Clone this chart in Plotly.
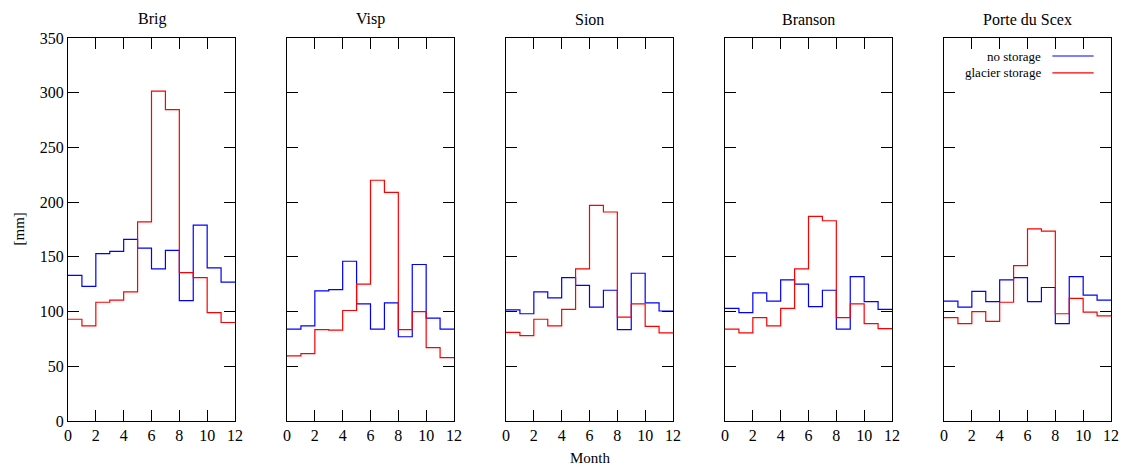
import plotly.graph_objects as go

stations = ["Brig", "Visp", "Sion", "Branson", "Porte du Scex"]
month_edges = list(range(13))  # month bins 0..12

no_storage = {
    "Brig":          [133, 123, 153, 155, 166, 158, 139, 156, 110, 179, 140, 127],
    "Visp":          [84, 87, 119, 120, 146, 107, 84, 108, 77, 143, 94, 84],
    "Sion":          [101.5, 98, 118, 112.5, 131, 124, 104, 119.5, 83.5, 135, 108, 100.5],
    "Branson":       [103, 99, 117, 109.5, 129, 125, 104.5, 119.5, 84, 132, 109, 102],
    "Porte du Scex": [109.5, 104, 118.5, 109, 129, 131, 109, 122, 89, 132, 115, 110.5],
}
glacier_storage = {
    "Brig":          [93, 87, 108.5, 110.5, 118, 182, 301.5, 284.5, 135.5, 131, 99, 90],
    "Visp":          [59.5, 61.5, 83.5, 83, 101, 125, 220, 209, 83.5, 100, 67, 58],
    "Sion":          [81, 78, 93, 87, 102, 139, 197, 191, 95, 107, 86.5, 80.5],
    "Branson":       [84, 80.5, 94.5, 87, 103, 139, 187, 183, 94.5, 107, 89, 84.5],
    "Porte du Scex": [94.5, 89, 100, 91, 108.5, 142, 175.5, 173.5, 98, 112, 99.5, 96],
}
series_names = ["no storage", "glacier storage"]
series_colors = ["#0000ff", "#ff0000"]
x_ticks = [0, 2, 4, 6, 8, 10, 12]
y_ticks = [0, 50, 100, 150, 200, 250, 300, 350]

W, H = 1126, 469
ML, MR, MT, MB = 68, 15, 38, 48
area_w = W - ML - MR
panel_left_px = [68, 287, 506, 725, 944]
panel_width_px = 167

FONT = "Liberation Serif, Times New Roman, serif"
fig = go.Figure()
annotations = []
shapes = []

for i, st in enumerate(stations):
    k = "" if i == 0 else str(i + 1)
    for name, col, data in zip(series_names, series_colors, [no_storage, glacier_storage]):
        vals = data[st]
        fig.add_trace(go.Scatter(
            x=month_edges, y=vals + [vals[-1]],
            mode="lines", line=dict(color=col, width=1.2, shape="hv"),
            name=name, showlegend=False, xaxis="x" + k, yaxis="y" + k,
            hoverinfo="x+y",
        ))
    x0 = (panel_left_px[i] - ML) / area_w
    x1 = (panel_left_px[i] + panel_width_px - ML) / area_w
    axis_common = dict(
        showline=True, linecolor="black", linewidth=1, mirror="allticks",
        ticks="inside", ticklen=11, tickwidth=1, tickcolor="black",
        showgrid=False, zeroline=False, automargin=False,
        tickfont=dict(family=FONT, size=16, color="black"),
    )
    fig.update_layout(**{
        "xaxis" + k: dict(domain=[x0, min(x1, 1)], range=[0, 12], tickvals=x_ticks,
                          anchor="y" + k, **axis_common),
        "yaxis" + k: dict(domain=[0, 1], range=[0, 350], tickvals=y_ticks,
                          anchor="x" + k, showticklabels=(i == 0), **axis_common),
    })
    annotations.append(dict(
        text=st, xref="x" + k + " domain", yref="paper", x=0.5, y=1,
        xanchor="center", yanchor="bottom", yshift=8, showarrow=False,
        font=dict(family=FONT, size=16, color="black"),
    ))

# legend inside last panel (text left, line sample right)
leg_y = [0.953, 0.909]
for name, col, yy in zip(series_names, series_colors, leg_y):
    annotations.append(dict(
        text=name, xref="x5 domain", yref="y5 domain", x=0.595, y=yy,
        xanchor="right", yanchor="middle", showarrow=False,
        font=dict(family=FONT, size=13, color="black"),
    ))
    shapes.append(dict(
        type="line", xref="x5 domain", yref="y5 domain",
        x0=0.649, x1=0.896, y0=yy, y1=yy,
        line=dict(color=col, width=1.2),
    ))

annotations.append(dict(
    text="Month", xref="paper", yref="paper", x=(590 - ML) / area_w, y=0,
    xanchor="center", yanchor="top", yshift=-27, showarrow=False,
    font=dict(family=FONT, size=15, color="black"),
))
annotations.append(dict(
    text="[mm]", xref="paper", yref="paper", x=(18 - ML) / area_w, y=0.5,
    xanchor="center", yanchor="middle", textangle=-90, showarrow=False,
    font=dict(family=FONT, size=15, color="black"),
))

fig.update_layout(
    width=W, height=H,
    margin=dict(l=ML, r=MR, t=MT, b=MB, autoexpand=False),
    paper_bgcolor="white", plot_bgcolor="white",
    annotations=annotations, shapes=shapes,
    showlegend=False,
)
fig.write_html(
    "out.html",
    config={"displayModeBar": False},
    post_script="document.body.style.margin='0';document.body.style.overflow='hidden';",
)
